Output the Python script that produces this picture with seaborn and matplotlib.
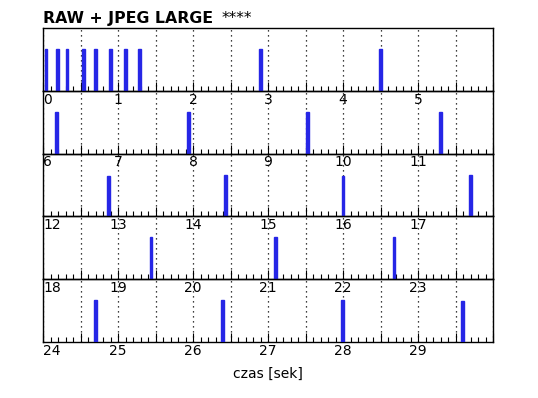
import numpy as np
import pandas as pd
import matplotlib
matplotlib.use("Agg")
import matplotlib.pyplot as plt
import seaborn as sns

# event times in seconds
times = [0.04, 0.19, 0.32, 0.54, 0.70, 0.90, 1.10, 1.29, 2.90, 4.50,
         6.18, 7.94, 9.53, 11.30,
         12.87, 14.43, 16.00, 17.70,
         19.44, 21.10, 22.68,
         24.70, 26.39, 27.99, 29.59]
heights = [1.0, 1.0, 1.0, 1.0, 1.0, 1.0, 1.0, 1.0, 1.0, 1.0,
           1.0, 1.0, 1.0, 1.0,
           0.97, 1.0, 0.97, 1.0,
           1.0, 1.0, 1.0,
           1.0, 1.0, 1.0, 0.97]
row_len = 6
n_rows = 5
title = "RAW + JPEG LARGE"
stars = "****"
xlabel = "czas [sek]"

df = pd.DataFrame({"t": times, "h": heights})
df["row"] = (df["t"] // row_len).astype(int)
df["x"] = df["t"] - df["row"] * row_len

sns.set_style("white")
plt.rcParams["font.family"] = ["DejaVu Sans"]
plt.rcParams["text.color"] = "black"

W, H = 538, 398
fig = plt.figure(figsize=(W / 100, H / 100), dpi=100)
left, right, top, bottom = 43 / W, 493 / W, 1 - 28 / H, 1 - 342 / H
gs = fig.add_gridspec(n_rows, 1, left=left, right=right, top=top, bottom=bottom, hspace=0)

for r in range(n_rows):
    ax = fig.add_subplot(gs[r])
    ax.set_facecolor("none")
    sub = df[df["row"] == r]
    ax.bar(sub["x"], sub["h"], width=0.035, color="#2626e6", edgecolor="#2626e6",
           linewidth=1.0, zorder=3)
    ax.set_xlim(0, row_len)
    ax.set_ylim(0, 1.5)
    ax.set_yticks([])
    ax.set_xticks(np.arange(0, row_len + 0.01, 0.5))
    ax.set_xticks(np.arange(0, row_len + 0.01, 0.1), minor=True)
    ax.set_xticklabels([])
    ax.tick_params(axis="x", which="major", direction="in", length=6.5, width=0.8,
                   bottom=True, top=False, color="black")
    ax.tick_params(axis="x", which="minor", direction="in", length=3.6, width=0.8,
                   bottom=True, top=False, color="black")
    ax.grid(True, axis="x", which="major", linestyle=(0, (1, 3)), color="black", linewidth=0.9)
    for s in ax.spines.values():
        s.set_color("black")
        s.set_linewidth(1.0)
    for k in range(row_len):
        ax.text(k, -0.03, str(r * row_len + k), transform=ax.get_xaxis_transform(),
                ha="left" if k == 0 else "center", va="top", fontsize=10, zorder=5,
                color="black", clip_on=False)

fig.text((left + right) / 2, 1 - 374 / H, xlabel, ha="center", va="center", fontsize=10,
         color="black")
t1 = fig.text(left, 1 - 19 / H, title, ha="left", va="center", fontsize=11.3,
              fontweight="bold", color="black")
fig.canvas.draw()
bb = t1.get_window_extent()
fig.text((bb.x1 + 8) / W, 1 - 18 / H, stars, ha="left", va="center", fontsize=11,
         color="black")

fig.savefig("out.png", dpi=100)
